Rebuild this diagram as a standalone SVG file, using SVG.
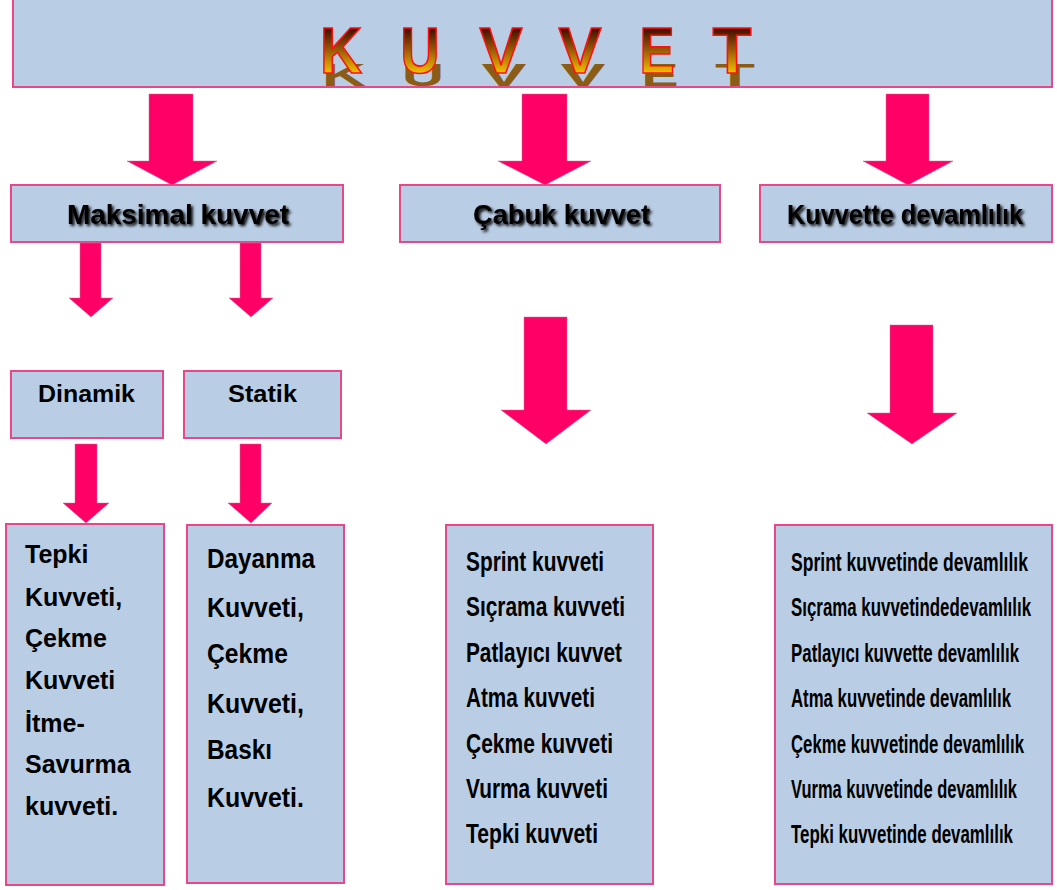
<svg xmlns="http://www.w3.org/2000/svg" width="1057" height="890" viewBox="0 0 1057 890">
<defs>
<style>
.box{fill:#b9cde5;stroke:#e8478a;stroke-width:2}
.arrow{fill:#ff0066;stroke:#c07090;stroke-width:0.5}
.t{font-family:"Liberation Sans",Arial,sans-serif;font-weight:bold;fill:#000}
.n{font-family:"Liberation Sans Narrow","Liberation Sans",Arial,sans-serif;font-weight:bold;fill:#000}
.lbl{font-family:"Liberation Sans",Arial,sans-serif;font-weight:bold;font-size:27px;fill:#000;filter:url(#sh)}
.title{font-family:"Liberation Sans",Arial,sans-serif;font-weight:bold;font-size:64px;fill:url(#gold);stroke:#ff1010;stroke-width:1.6;text-anchor:middle}
.shadow{font-family:"Liberation Sans",Arial,sans-serif;font-weight:bold;font-size:64px;fill:#8a5c16;text-anchor:middle}
</style>
<linearGradient id="gold" gradientUnits="userSpaceOnUse" x1="0" y1="27" x2="0" y2="73">
<stop offset="0" stop-color="#3a0800"/>
<stop offset="0.5" stop-color="#9a5a06"/>
<stop offset="1" stop-color="#f0c000"/>
</linearGradient>
<filter id="sh" x="-10%" y="-30%" width="120%" height="160%">
<feGaussianBlur in="SourceAlpha" stdDeviation="1.5"/>
<feOffset dx="2" dy="2" result="b"/>
<feMerge><feMergeNode in="b"/><feMergeNode in="SourceGraphic"/></feMerge>
</filter>
<clipPath id="topclip"><rect x="13" y="0" width="1039" height="86"/></clipPath>
</defs>

<g id="kuvvet">
<rect class="box" x="13" y="-2" width="1039" height="89"/>
<g clip-path="url(#topclip)">
<g transform="scale(1,0.5)">
<text class="shadow" x="344" y="172" textLength="44" lengthAdjust="spacingAndGlyphs">K</text>
<text class="shadow" x="423" y="172" textLength="42" lengthAdjust="spacingAndGlyphs">U</text>
<text class="shadow" x="504" y="172" textLength="45" lengthAdjust="spacingAndGlyphs">V</text>
<text class="shadow" x="583" y="172" textLength="45" lengthAdjust="spacingAndGlyphs">V</text>
<text class="shadow" x="660" y="172" textLength="37" lengthAdjust="spacingAndGlyphs">E</text>
<text class="shadow" x="735" y="172" textLength="40" lengthAdjust="spacingAndGlyphs">T</text>
</g>
</g>
<text class="title" x="341" y="73" textLength="42" lengthAdjust="spacingAndGlyphs">K</text>
<text class="title" x="420" y="73" textLength="39" lengthAdjust="spacingAndGlyphs">U</text>
<text class="title" x="501" y="73" textLength="43" lengthAdjust="spacingAndGlyphs">V</text>
<text class="title" x="580" y="73" textLength="43" lengthAdjust="spacingAndGlyphs">V</text>
<text class="title" x="657" y="73" textLength="35" lengthAdjust="spacingAndGlyphs">E</text>
<text class="title" x="732" y="73" textLength="39" lengthAdjust="spacingAndGlyphs">T</text>
</g>

<g id="maksimal">
<rect class="box" x="11" y="185" width="332" height="57"/>
<text class="lbl" x="67" y="224" textLength="222" lengthAdjust="spacingAndGlyphs">Maksimal kuvvet</text>
</g>
<g id="cabuk">
<rect class="box" x="400" y="185" width="320" height="57"/>
<text class="lbl" x="473" y="224" textLength="177" lengthAdjust="spacingAndGlyphs">Çabuk kuvvet</text>
</g>
<g id="devamlilik">
<rect class="box" x="760" y="185" width="292" height="57"/>
<text class="lbl" x="787" y="224" textLength="236" lengthAdjust="spacingAndGlyphs">Kuvvette devamlılık</text>
</g>

<g id="dinamik">
<rect class="box" x="11" y="371" width="152" height="67"/>
<text class="t" x="38" y="402" font-size="23" textLength="97" lengthAdjust="spacingAndGlyphs">Dinamik</text>
</g>
<g id="statik">
<rect class="box" x="184" y="371" width="157" height="67"/>
<text class="t" x="228" y="402" font-size="23" textLength="69" lengthAdjust="spacingAndGlyphs">Statik</text>
</g>

<g id="dinamik-list">
<rect class="box" x="6" y="524" width="158" height="361"/>
<g class="t" font-size="25">
<text x="25" y="563">Tepki</text>
<text x="25" y="606">Kuvveti,</text>
<text x="25" y="647">Çekme</text>
<text x="25" y="689">Kuvveti</text>
<text x="25" y="732">İtme-</text>
<text x="25" y="773">Savurma</text>
<text x="25" y="815">kuvveti.</text>
</g>
</g>

<g id="statik-list">
<rect class="box" x="187" y="525" width="157" height="358"/>
<g class="n" font-size="27" transform="translate(207,0) scale(0.88,1)">
<text x="0" y="568" textLength="122.7" lengthAdjust="spacingAndGlyphs">Dayanma</text>
<text x="0" y="617" textLength="110.2" lengthAdjust="spacingAndGlyphs">Kuvveti,</text>
<text x="0" y="663" textLength="92" lengthAdjust="spacingAndGlyphs">Çekme</text>
<text x="0" y="713" textLength="110.2" lengthAdjust="spacingAndGlyphs">Kuvveti,</text>
<text x="0" y="759" textLength="73.9" lengthAdjust="spacingAndGlyphs">Baskı</text>
<text x="0" y="807" textLength="110.2" lengthAdjust="spacingAndGlyphs">Kuvveti.</text>
</g>
</g>

<g id="cabuk-list">
<rect class="box" x="446" y="525" width="207" height="359" stroke-width="2.5"/>
<g class="n" font-size="28" transform="translate(466,0) scale(0.75,1)">
<text x="0" y="571" textLength="184" lengthAdjust="spacingAndGlyphs">Sprint kuvveti</text>
<text x="0" y="616" textLength="212" lengthAdjust="spacingAndGlyphs">Sıçrama kuvveti</text>
<text x="0" y="662" textLength="208" lengthAdjust="spacingAndGlyphs">Patlayıcı kuvvet</text>
<text x="0" y="707" textLength="172" lengthAdjust="spacingAndGlyphs">Atma kuvveti</text>
<text x="0" y="753" textLength="196" lengthAdjust="spacingAndGlyphs">Çekme kuvveti</text>
<text x="0" y="798" textLength="189.3" lengthAdjust="spacingAndGlyphs">Vurma kuvveti</text>
<text x="0" y="843" textLength="176" lengthAdjust="spacingAndGlyphs">Tepki kuvveti</text>
</g>
</g>

<g id="devamlilik-list">
<rect class="box" x="775" y="525" width="277" height="359" stroke-width="2.5"/>
<g class="n" font-size="26" transform="translate(791,0) scale(0.675,1)">
<text x="0" y="571" textLength="351.1" lengthAdjust="spacingAndGlyphs">Sprint kuvvetinde devamlılık</text>
<text x="0" y="616" textLength="355.6" lengthAdjust="spacingAndGlyphs">Sıçrama kuvvetindedevamlılık</text>
<text x="0" y="662" textLength="337.8" lengthAdjust="spacingAndGlyphs">Patlayıcı kuvvette devamlılık</text>
<text x="0" y="707" textLength="325.9" lengthAdjust="spacingAndGlyphs">Atma kuvvetinde devamlılık</text>
<text x="0" y="753" textLength="345.2" lengthAdjust="spacingAndGlyphs">Çekme kuvvetinde devamlılık</text>
<text x="0" y="798" textLength="334.8" lengthAdjust="spacingAndGlyphs">Vurma kuvvetinde devamlılık</text>
<text x="0" y="843" textLength="328.9" lengthAdjust="spacingAndGlyphs">Tepki kuvvetinde devamlılık</text>
</g>
</g>

<g id="connectors">
<polygon class="arrow" points="149,94 193,94 193,161 217,161 172,185 127,161 149,161"/>
<polygon class="arrow" points="522,94 567,94 567,161 591,161 545,185 498,161 522,161"/>
<polygon class="arrow" points="886,94 929,94 929,161 953,161 908,185 863,161 886,161"/>
<polygon class="arrow" points="80,243 101,243 101,298 113,298 91,317 69,298 80,298"/>
<polygon class="arrow" points="240,243 261,243 261,298 273,298 251,317 229,298 240,298"/>
<polygon class="arrow" points="75,444 97,444 97,503 109,503 86,523 63,503 75,503"/>
<polygon class="arrow" points="240,444 261,444 261,503 272,503 251,523 228,503 240,503"/>
<polygon class="arrow" points="524,317 567,317 567,410 591,410 546,444 501,410 524,410"/>
<polygon class="arrow" points="890,325 933,325 933,413 957,413 912,444 867,413 890,413"/>
</g>
</svg>
